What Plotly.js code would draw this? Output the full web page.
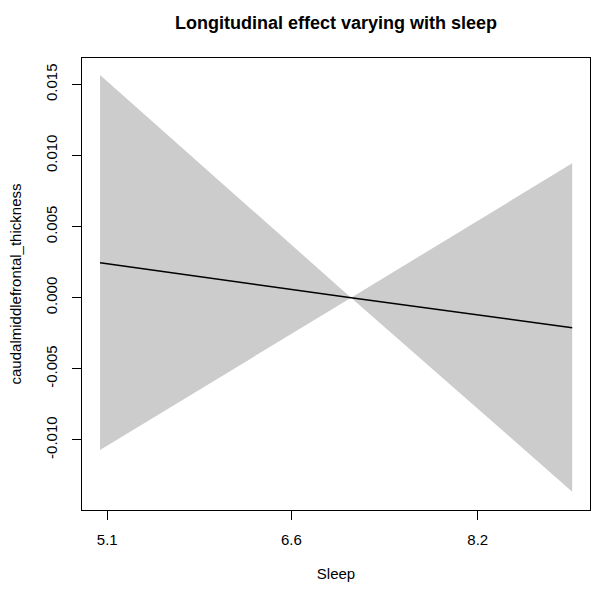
<!DOCTYPE html>
<html>
<head>
<meta charset="utf-8">
<script src="https://cdn.plot.ly/plotly-3.0.1.min.js"></script>
<style>html,body{margin:0;padding:0;background:#fff;}#chart{width:602px;height:589px;}</style>
</head>
<body>
<div id="chart"></div>
<script>
// Sleep values (x) and the fitted effect with its confidence band
var sleep = [5.04, 7.14, 8.99];
var fit = [0.00246, 0.00000, -0.00211];
var upper = [0.01566, 0.00000, 0.00945];
var lower = [-0.01071, 0.00000, -0.01364];

// Axis ticks
var xTickVals = [5.1, 6.64, 8.2];
var xTickText = ['5.1', '6.6', '8.2'];
var yTickVals = [-0.010, -0.005, 0.000, 0.005, 0.010, 0.015];
var yTickText = ['-0.010', '-0.005', '0.000', '0.005', '0.010', '0.015'];

var font = 'Liberation Sans, Arial, sans-serif';

var traces = [
  {x: sleep, y: lower, mode: 'lines', line: {width: 0, color: '#CCCCCC'}, hoverinfo: 'skip', showlegend: false},
  {x: sleep, y: upper, mode: 'lines', fill: 'tonexty', fillcolor: '#CCCCCC', line: {width: 0, color: '#CCCCCC'}, hoverinfo: 'skip', showlegend: false},
  {x: sleep, y: fit, mode: 'lines', line: {width: 1.5, color: '#000000'}, showlegend: false}
];

var layout = {
  width: 602, height: 589,
  margin: {l: 82, r: 12, t: 58, b: 79, pad: 0},
  paper_bgcolor: '#ffffff', plot_bgcolor: '#ffffff',
  font: {family: font, size: 15, color: '#000000'},
  title: {text: '<b>Longitudinal effect varying with sleep</b>', font: {family: font, size: 18, color: '#000'},
          x: 0.5, xanchor: 'center', y: 0.962, yanchor: 'middle', xref: 'paper'},
  xaxis: {
    range: [4.889, 9.139], showgrid: false, zeroline: false,
    showline: true, mirror: true, linecolor: '#000', linewidth: 1,
    ticks: 'outside', ticklen: 9, tickwidth: 1, tickcolor: '#000',
    tickvals: xTickVals, ticktext: xTickText, ticklabelstandoff: 7,
    tickfont: {family: font, size: 15, color: '#000'},
    title: {text: 'Sleep', font: {family: font, size: 15, color: '#000'}, standoff: 21},
    automargin: false
  },
  yaxis: {
    range: [-0.01493, 0.01686], showgrid: false, zeroline: false,
    showline: true, mirror: true, linecolor: '#000', linewidth: 1,
    ticks: 'outside', ticklen: 9, tickwidth: 1, tickcolor: '#000',
    tickvals: yTickVals, ticktext: yTickText, tickangle: -90, ticklabelstandoff: 9,
    tickfont: {family: font, size: 15, color: '#000'},
    title: {text: 'caudalmiddlefrontal_thickness', font: {family: font, size: 15, color: '#000'}, standoff: 17},
    automargin: false
  }
};

Plotly.newPlot('chart', traces, layout, {displayModeBar: false, staticPlot: true});
</script>
</body>
</html>
